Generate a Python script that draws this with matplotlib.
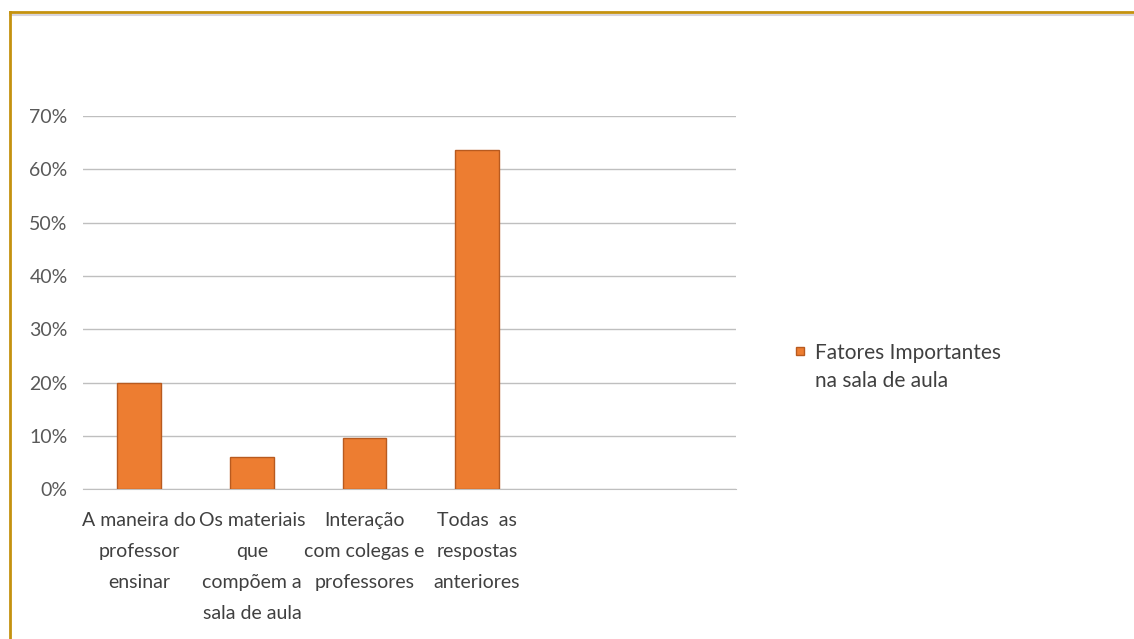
import matplotlib.pyplot as plt
from matplotlib.lines import Line2D
from matplotlib.ticker import PercentFormatter

plt.rcParams['font.family'] = ['Lato', 'DejaVu Sans']

categories = ["A maneira do\nprofessor\nensinar",
              "Os materiais\nque\ncompõem a\nsala de aula",
              "Interação\ncom colegas e\nprofessores",
              "Todas  as\nrespostas\nanteriores"]
values = [0.20, 0.06, 0.097, 0.636]
series_name = "Fatores Importantes\nna sala de aula"
y_ticks = [0, 0.1, 0.2, 0.3, 0.4, 0.5, 0.6, 0.7]

bar_color = "#ED7D31"
edge_color = "#B85A1F"
text_color = "#595959"
grid_color = "#BFBFBF"

fig = plt.figure(figsize=(11.34, 6.39), dpi=100)
ax = fig.add_axes([0.0732, 0.2343, 0.5758, 0.5842])

x = list(range(len(categories)))
ax.bar(x, values, width=0.39, color=bar_color, edgecolor=edge_color,
       linewidth=1, zorder=3)

ax.set_xlim(-0.5, 5.3)
ax.set_ylim(0, 0.7)
ax.set_yticks(y_ticks)
ax.yaxis.set_major_formatter(PercentFormatter(1.0, decimals=0))
ax.set_xticks(x)
ax.set_xticklabels(categories, linespacing=2.02)

ax.grid(axis="y", color=grid_color, linewidth=1, zorder=0)
for side in ["top", "right", "left"]:
    ax.spines[side].set_visible(False)
ax.spines["bottom"].set_color(grid_color)
ax.tick_params(axis="both", length=0, labelsize=14, colors=text_color)
ax.tick_params(axis="x", pad=16, colors="#404040")
ax.tick_params(axis="y", pad=11)

# legend, square lined up with the first text line like Excel does
fig.add_artist(Line2D([0.7059], [0.4507], marker="s", markersize=6,
                      markerfacecolor=bar_color, markeredgecolor=edge_color,
                      transform=fig.transFigure))
fig.text(0.7187, 0.4507 + 0.013, series_name, fontsize=15, color="#404040",
         va="top", ha="left", linespacing=1.55, transform=fig.transFigure)

# border of the chart box
gold = "#C4920F"
fig.add_artist(Line2D([0.0088, 1.0], [0.976, 0.976], color="#D8D4DC",
                      linewidth=1.5, transform=fig.transFigure))
fig.add_artist(Line2D([0.0088, 1.0], [0.982, 0.982], color=gold, linewidth=2,
                      transform=fig.transFigure))
fig.add_artist(Line2D([0.0088, 0.0088], [0.0, 0.982], color=gold, linewidth=2,
                      transform=fig.transFigure))

fig.savefig("out.png", dpi=100)
